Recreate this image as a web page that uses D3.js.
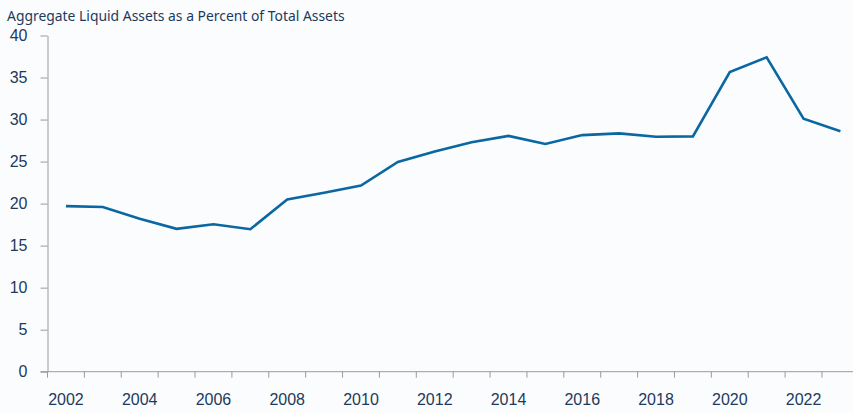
<!DOCTYPE html>
<html>
<head>
<meta charset="utf-8">
<script src="https://cdn.jsdelivr.net/npm/d3@7"></script>
<style>
  body { margin: 0; background: #fbfcfe; }
  svg { display: block; font-family: "Source Sans Pro", Lato, "Noto Sans", sans-serif; }
</style>
</head>
<body>
<script>
var years = [2002, 2003, 2004, 2005, 2006, 2007, 2008, 2009, 2010, 2011, 2012,
             2013, 2014, 2015, 2016, 2017, 2018, 2019, 2020, 2021, 2022, 2023];
var liquidShare = [19.7, 19.6, 18.2, 17.0, 17.55, 16.95, 20.5, 21.3, 22.15, 24.95, 26.2,
                   27.3, 28.05, 27.1, 28.15, 28.35, 27.95, 28.0, 35.65, 37.4, 30.1, 28.6];
var yTicks = [0, 5, 10, 15, 20, 25, 30, 35, 40];
var yearLabels = [2002, 2004, 2006, 2008, 2010, 2012, 2014, 2016, 2018, 2020, 2022];
var title = "Aggregate Liquid Assets as a Percent of Total Assets";

var outerWidth = 853;
var outerHeight = 413;
var marginLeft = 47.5;
var marginTop = 35.5;
var bottomY = 371.7;
var bandWidth = 36.88;

var lineColor = "#0b67a1";
var textColor = "#1d3a5c";
var axisColor = "#9a9a9a";

var svg = d3.select("body").append("svg")
    .attr("width", outerWidth)
    .attr("height", outerHeight);

var x = d3.scaleBand()
    .domain(years)
    .range([marginLeft, marginLeft + years.length * bandWidth])
    .padding(0);

var y = d3.scaleLinear()
    .domain([0, 40])
    .range([bottomY, marginTop]);

// title
svg.append("text")
    .attr("x", 7)
    .attr("y", 21)
    .attr("fill", textColor)
    .style("font-family", "'Noto Sans', sans-serif")
    .style("font-size", "13.9px")
    .text(title);

// y axis
var yAxis = svg.append("g")
    .attr("transform", "translate(" + marginLeft + ",0)")
    .call(d3.axisLeft(y).tickValues(yTicks).tickSize(7).tickSizeOuter(0).tickPadding(13));
yAxis.select(".domain").attr("stroke", axisColor);
yAxis.selectAll(".tick line").attr("stroke", axisColor);
yAxis.selectAll(".tick text")
    .attr("fill", textColor)
    .style("font-size", "16px")
    .style("font-family", "inherit");

// x axis: labels at band centres, ticks at band edges
var xAxis = svg.append("g")
    .attr("transform", "translate(0," + bottomY + ")")
    .call(d3.axisBottom(x).tickValues(yearLabels).tickSize(0).tickPadding(22).tickSizeOuter(0));
xAxis.select(".domain").remove();
xAxis.selectAll(".tick text")
    .attr("fill", textColor)
    .style("font-size", "16px")
    .style("font-family", "inherit");

svg.append("line")
    .attr("x1", marginLeft - 7)
    .attr("x2", outerWidth)
    .attr("y1", bottomY)
    .attr("y2", bottomY)
    .attr("stroke", axisColor);

svg.append("g").selectAll("line")
    .data(years)
    .enter()
    .append("line")
    .attr("x1", function(d) { return x(d); })
    .attr("x2", function(d) { return x(d); })
    .attr("y1", bottomY)
    .attr("y2", bottomY + 6)
    .attr("stroke", axisColor);

// the series
var line = d3.line()
    .x(function(d, i) { return x(years[i]) + x.bandwidth() / 2; })
    .y(function(d) { return y(d); });

svg.append("path")
    .datum(liquidShare)
    .attr("d", line)
    .attr("fill", "none")
    .attr("stroke", lineColor)
    .attr("stroke-width", 2.6)
    .attr("stroke-linejoin", "miter");
</script>
</body>
</html>
